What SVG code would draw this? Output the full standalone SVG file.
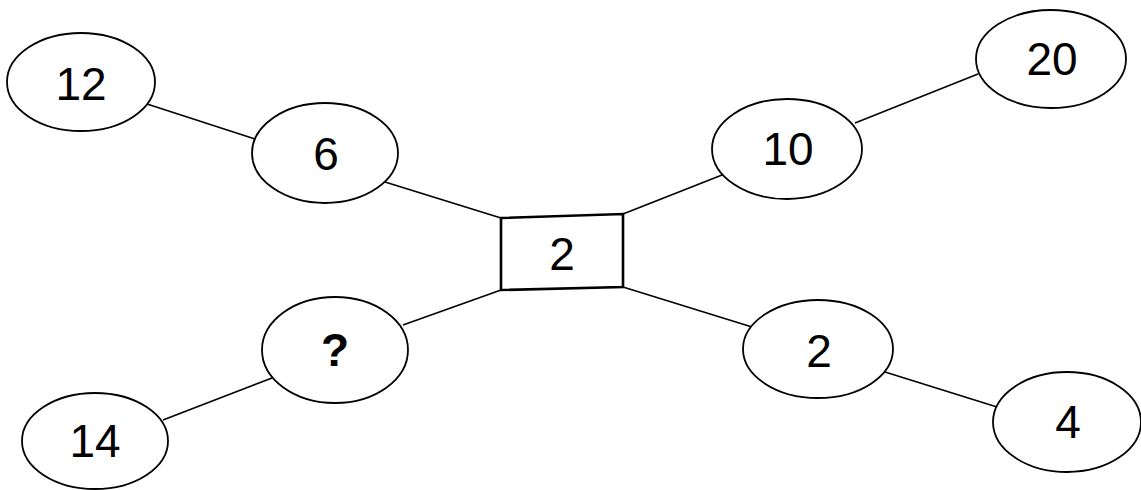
<svg xmlns="http://www.w3.org/2000/svg" width="1141" height="490" viewBox="0 0 1141 490">
<style>
.n ellipse{fill:#fff;stroke:#000;stroke-width:1.8}
.n polygon{fill:#fff;stroke:#000;stroke-width:2.6}
.n text{font-family:"Liberation Sans",Arial,sans-serif;font-size:46px;text-anchor:middle;fill:#000}
#edges line{stroke:#000;stroke-width:1.6}
</style>
<rect width="1141" height="490" fill="#fff"/>
<g id="edges">
<line x1="147" y1="104" x2="255" y2="139"/>
<line x1="385" y1="182" x2="501" y2="218"/>
<line x1="623" y1="214" x2="722" y2="175"/>
<line x1="855" y1="123" x2="978" y2="74"/>
<line x1="403" y1="325" x2="501" y2="290"/>
<line x1="163" y1="420" x2="272" y2="378"/>
<line x1="623" y1="287" x2="752" y2="327"/>
<line x1="885" y1="372" x2="997" y2="407"/>
</g>
<g id="n12" class="n"><ellipse cx="81" cy="82" rx="74" ry="49"/><text x="81" y="100">12</text></g>
<g id="n6" class="n"><ellipse cx="325" cy="153" rx="73" ry="50"/><text x="326" y="170">6</text></g>
<g id="n10" class="n"><ellipse cx="787" cy="149" rx="75" ry="50"/><text x="788" y="165">10</text></g>
<g id="n20" class="n"><ellipse cx="1051" cy="59" rx="75" ry="49"/><text x="1052" y="75">20</text></g>
<g id="center" class="n"><polygon points="501,218 623,214 623,287 501,290"/><text x="562" y="270">2</text></g>
<g id="nq" class="n"><ellipse cx="335" cy="350" rx="73" ry="53"/><text x="335" y="366" font-weight="bold">?</text></g>
<g id="n14" class="n"><ellipse cx="95" cy="441" rx="73" ry="48"/><text x="95" y="457">14</text></g>
<g id="n2" class="n"><ellipse cx="818" cy="349" rx="75" ry="49"/><text x="819" y="367">2</text></g>
<g id="n4" class="n"><ellipse cx="1067" cy="422" rx="74" ry="50"/><text x="1068" y="438">4</text></g>
</svg>
